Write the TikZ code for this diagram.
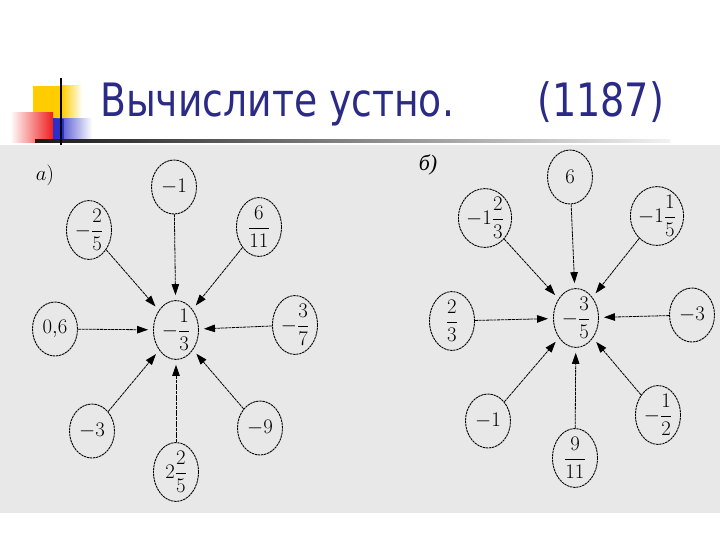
\documentclass[tikz,border=0pt]{standalone}
\usepackage{fontspec}
\usepackage{amsmath}
\newfontfamily\titlefont{DejaVu Sans}
\newfontfamily\cyrserif{Liberation Serif}
\usetikzlibrary{shapes.geometric,arrows.meta}
\definecolor{panelgray}{HTML}{E8E8E8}
\definecolor{titleblue}{RGB}{43,43,135}
\definecolor{decoyellow}{RGB}{255,204,0}
\definecolor{decored}{RGB}{240,30,30}
\definecolor{decoblue}{RGB}{45,45,200}
\tikzset{
  bub/.style={ellipse, draw=black, line width=0.9pt, dash pattern=on 2.4pt off 0.7pt,
    minimum width=45pt, minimum height=54pt, inner sep=0pt,
    font=\fontsize{20.74}{24}\selectfont},
  arr/.style={-{Triangle[length=11pt,width=7.5pt]}, line width=0.8pt,
    dash pattern=on 3pt off 0.7pt, shorten >=5pt},
  ttl/.style={anchor=base west, inner sep=0pt, text=titleblue,
    font=\titlefont\fontsize{46}{50}\selectfont},
  lab/.style={inner sep=0pt, font=\fontsize{22}{24}\selectfont}
}
\begin{document}
\begin{tikzpicture}[x=1pt,y=-1pt]
\useasboundingbox (0,0) rectangle (720,540);
\fill[white] (0,0) rectangle (720,540);
\fill[panelgray] (0,145) rectangle (720,513);
% decoration
\fill[decoyellow] (33,86) rectangle (62,118);
\shade[left color=decoyellow, right color=white] (62,86) rectangle (82,118);
\shade[left color=white, right color=decored] (10,113) rectangle (53,143);
\shade[left color=decoblue, right color=white] (53,119) rectangle (92,142);
\fill[decoblue] (53,119) rectangle (64,142);
\shade[left color=black!90, right color=panelgray!60] (35,140) rectangle (670,142.5);
\draw[line width=2pt] (61,78) -- (61,145);
% title
\node[ttl] (t1) at (100,117) {\scalebox{0.82}[1]{Вычислите устно.}};
\node[ttl] (t2) at (537,117) {\scalebox{0.83}[1]{(1187)}};
% panel a
\node[lab] (la) at (45,175) {$a)$};
\node[bub] (a0) at (176,330) {$-\dfrac{1}{3}$};
\node[bub] (a1) at (174,187) {$-1$};
\node[bub] (a2) at (89,230) {$-\dfrac{2}{5}$};
\node[bub] (a3) at (259,227) {$\dfrac{6}{11}$};
\node[bub] (a4) at (55,329) {$0{,}6$};
\node[bub] (a5) at (295,325) {$-\dfrac{3}{7}$};
\node[bub] (a6) at (92,431) {$-3$};
\node[bub] (a7) at (176,472) {$2\dfrac{2}{5}$};
\node[bub] (a8) at (260,428) {$-9$};
\foreach \n in {a1,a2,a3,a4,a5,a6,a7,a8} \draw[arr] (\n) -- (a0);
% panel b
\node[lab] (lb) at (428,165) {\cyrserif\itshape б)};
\node[bub] (b0) at (576,318) {$-\dfrac{3}{5}$};
\node[bub] (b1) at (570,177) {$6$};
\node[bub] (b2) at (485,218) {$-1\dfrac{2}{3}$};
\node[bub] (b3) at (657,216) {$-1\dfrac{1}{5}$};
\node[bub] (b4) at (452,321) {$\dfrac{2}{3}$};
\node[bub] (b5) at (692,315) {$-3$};
\node[bub] (b6) at (488,421) {$-1$};
\node[bub] (b7) at (575,458) {$\dfrac{9}{11}$};
\node[bub] (b8) at (658,415) {$-\dfrac{1}{2}$};
\foreach \n in {b1,b2,b3,b4,b5,b6,b7,b8} \draw[arr] (\n) -- (b0);
\end{tikzpicture}
\end{document}
